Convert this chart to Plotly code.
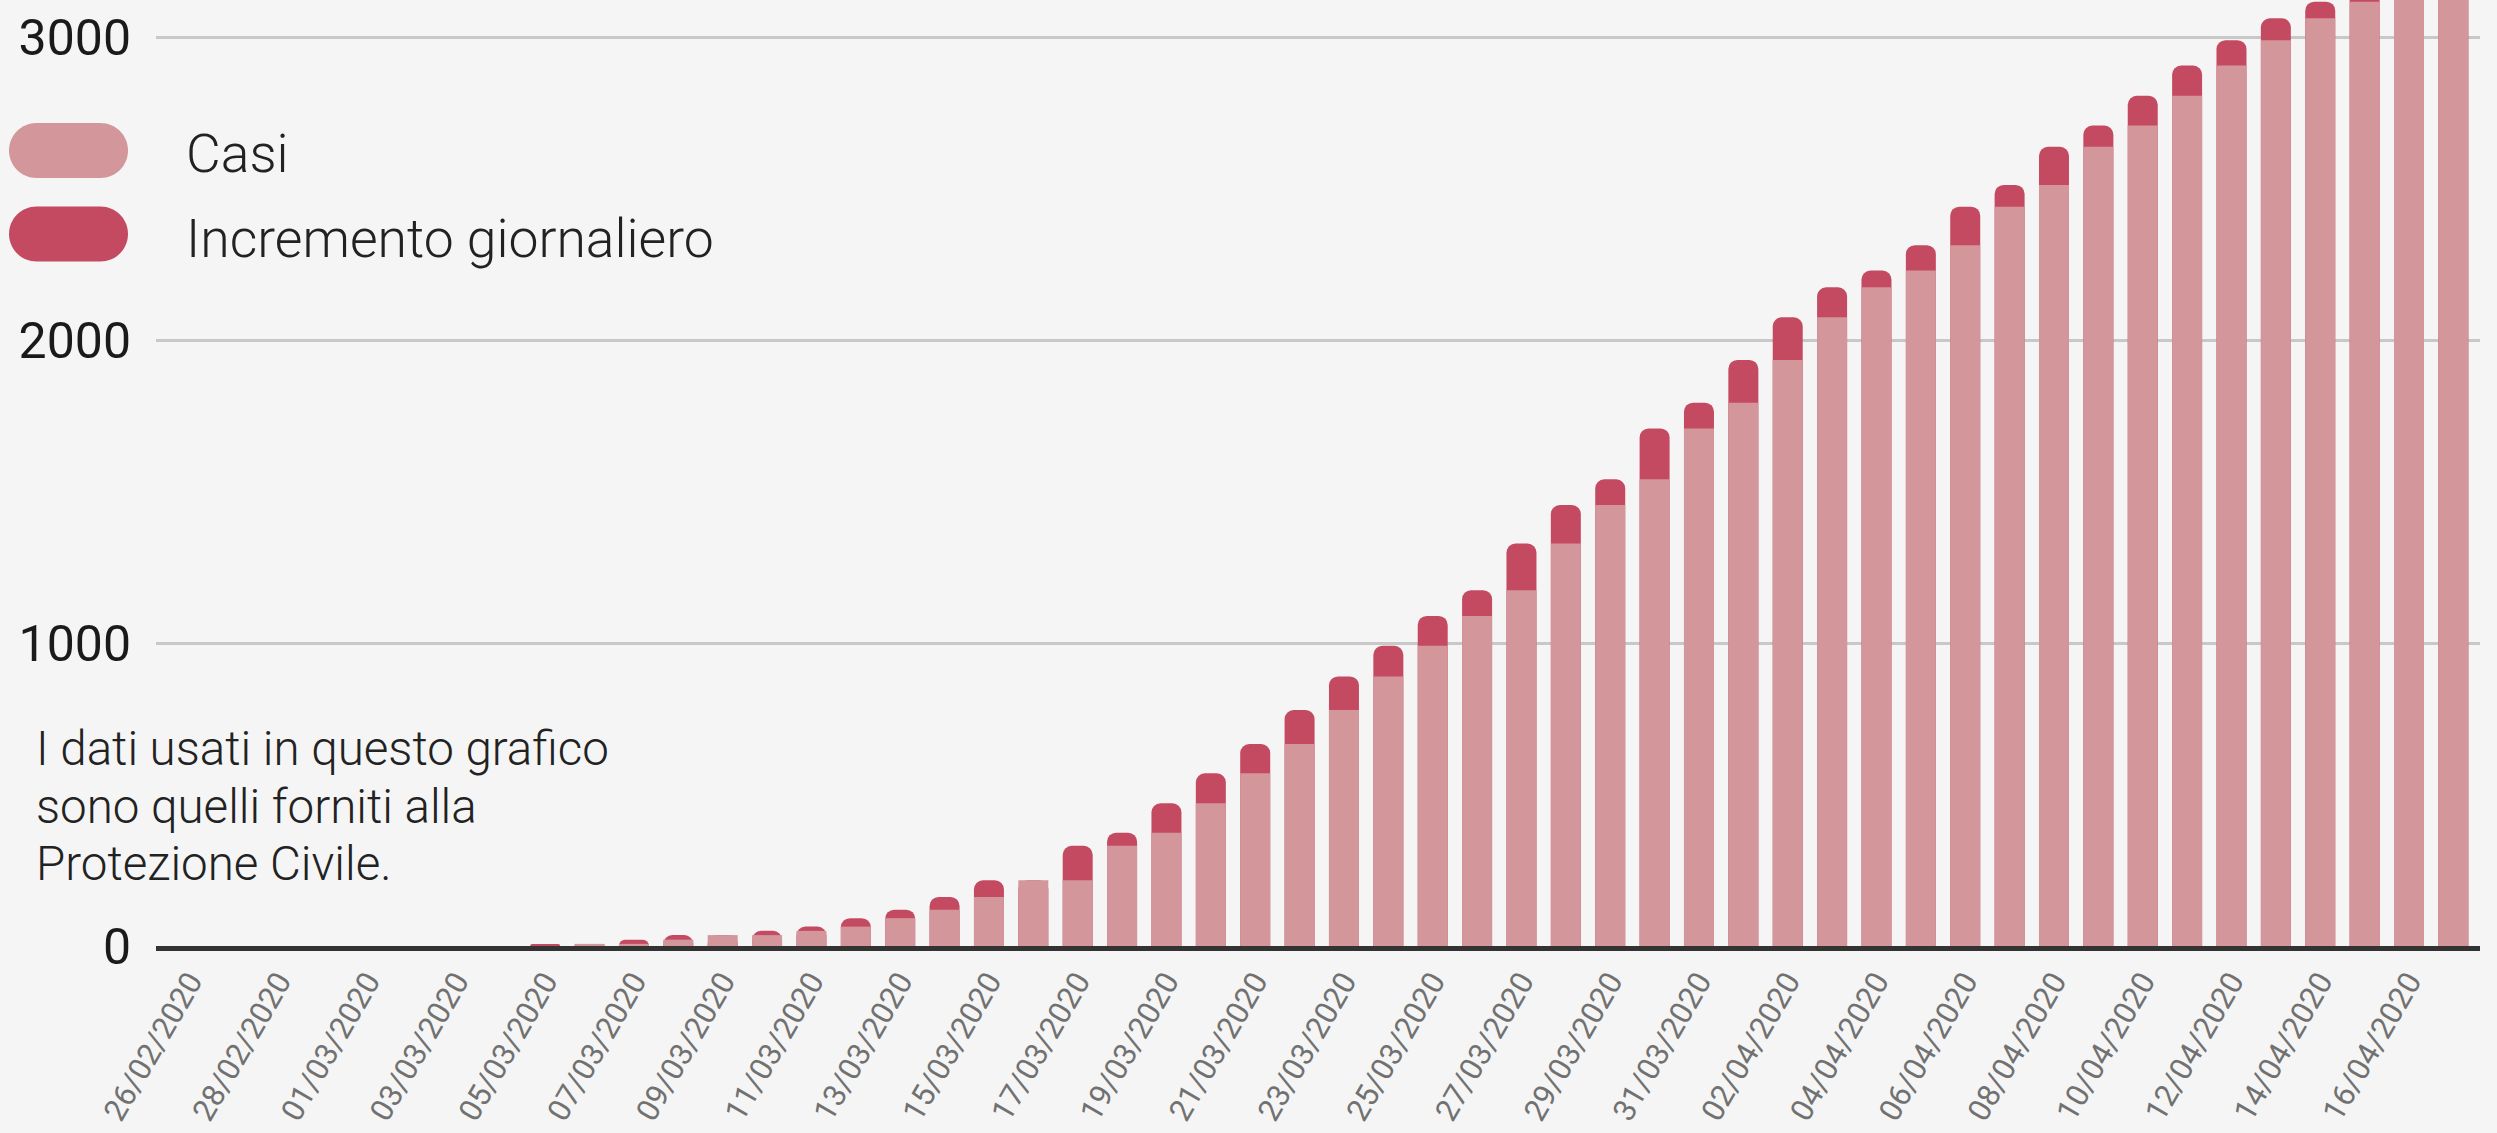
import plotly.graph_objects as go

# ---------------- data ----------------
date_labels = [
    "26/02/2020", "27/02/2020", "28/02/2020", "29/02/2020",
    "01/03/2020", "02/03/2020", "03/03/2020", "04/03/2020", "05/03/2020",
    "06/03/2020", "07/03/2020", "08/03/2020", "09/03/2020", "10/03/2020",
    "11/03/2020", "12/03/2020", "13/03/2020", "14/03/2020", "15/03/2020",
    "16/03/2020", "17/03/2020", "18/03/2020", "19/03/2020", "20/03/2020",
    "21/03/2020", "22/03/2020", "23/03/2020", "24/03/2020", "25/03/2020",
    "26/03/2020", "27/03/2020", "28/03/2020", "29/03/2020", "30/03/2020",
    "31/03/2020", "01/04/2020", "02/04/2020", "03/04/2020", "04/04/2020",
    "05/04/2020", "06/04/2020", "07/04/2020", "08/04/2020", "09/04/2020",
    "10/04/2020", "11/04/2020", "12/04/2020", "13/04/2020", "14/04/2020",
    "15/04/2020", "16/04/2020", "17/04/2020",
]

casi = [
    0, 0, 0, 0, 0, 0, 0, 0, 0,
    7, 7, 21, 36, 36, 50, 64, 92, 120, 162,
    217, 217, 331, 374, 471, 570, 667, 779, 890, 991,
    1090, 1175, 1329, 1456, 1541, 1709, 1794, 1935, 2076, 2175,
    2230, 2314, 2441, 2513, 2639, 2709, 2807, 2907, 2991, 3063,
    3118, 3178, 3248,
]

incremento = [
    0, 0, 0, 0, 0, 0, 0, 0, 7,
    0, 14, 15, 0, 14, 14, 28, 28, 42, 55,
    0, 114, 43, 97, 99, 97, 112, 111, 101, 99,
    85, 154, 127, 85, 168, 85, 141, 141, 99, 55,
    84, 127, 72, 126, 70, 98, 100, 84, 72, 55,
    60, 70, 60,
]

tick_labels = date_labels[::2]
y_ticks = [0, 1000, 2000, 3000]

legend_labels = ["Casi", "Incremento giornaliero"]
note_lines = [
    "I dati usati in questo grafico",
    "sono quelli forniti alla",
    "Protezione Civile.",
]

# ---------------- style ----------------
W, H = 2497, 1133
ML, MR, MT, MB = 156, 17, 0, 187
PW, PH = W - ML - MR, H - MT - MB

LIGHT = "#d3969b"
DARK = "#c44a62"
BG = "#f5f5f5"
FONT = "Roboto"

totale = [c + i for c, i in zip(casi, incremento)]


def px_x(px):
    return (px - ML) / PW


def px_y(py):
    return (H - MB - py) / PH


fig = go.Figure()
fig.add_bar(
    x=date_labels, y=totale, name=legend_labels[1],
    marker=dict(color=DARK, cornerradius=9, line=dict(width=0)),
    width=0.676, showlegend=False, hoverinfo="skip",
)
fig.add_bar(
    x=date_labels, y=casi, name=legend_labels[0],
    marker=dict(color=LIGHT, line=dict(width=0)),
    width=0.676, showlegend=False,
)

shapes = []
annotations = []

# custom pill legend
pill = ("M -32,-27.5 L 32,-27.5 C 47.2,-27.5 59.5,-15.2 59.5,0 "
        "C 59.5,15.2 47.2,27.5 32,27.5 L -32,27.5 "
        "C -47.2,27.5 -59.5,15.2 -59.5,0 C -59.5,-15.2 -47.2,-27.5 -32,-27.5 Z")
legend_rows = [(LIGHT, 150.5, 154.0), (DARK, 234.0, 239.0)]
for (col, sy, ty), lab in zip(legend_rows, legend_labels):
    shapes.append(dict(
        type="path", xref="paper", yref="paper",
        xsizemode="pixel", ysizemode="pixel",
        xanchor=px_x(68.5), yanchor=px_y(sy),
        path=pill, fillcolor=col, line=dict(width=0), layer="above",
    ))
    annotations.append(dict(
        text=lab, xref="paper", yref="paper", x=px_x(184), y=px_y(ty),
        xanchor="left", yanchor="middle", showarrow=False,
        font=dict(family=FONT, size=53.5, color="#222222", weight=300),
    ))

for line, py in zip(note_lines, [749, 807, 864]):
    annotations.append(dict(
        text=line, xref="paper", yref="paper", x=px_x(34), y=px_y(py),
        xanchor="left", yanchor="middle", showarrow=False,
        font=dict(family=FONT, size=47.5, color="#222222", weight=300),
    ))

fig.update_layout(
    width=W, height=H,
    margin=dict(l=ML, r=MR, t=MT, b=MB, pad=0, autoexpand=False),
    paper_bgcolor=BG, plot_bgcolor=BG,
    barmode="overlay",
    showlegend=False,
    shapes=shapes,
    annotations=annotations,
    xaxis=dict(
        type="category",
        range=[-0.77, 51.6],
        tickmode="array",
        tickvals=tick_labels,
        ticktext=tick_labels,
        tickangle=-60,
        tickfont=dict(family=FONT, size=31, color="#717171"),
        showgrid=False,
        showline=True, linecolor="#333333", linewidth=5,
        ticks="",
        zeroline=False,
        automargin=False,
    ),
    yaxis=dict(
        range=[0, 3123.5],
        tickmode="array",
        tickvals=y_ticks,
        ticktext=[str(v) for v in y_ticks],
        tickfont=dict(family=FONT, size=50, color="#1a1a1a"),
        showgrid=True, gridcolor="#c8c8c8", gridwidth=3,
        zeroline=False, showline=False, ticks="",
        ticklabelstandoff=24,
        automargin=False,
    ),
)

fig.write_html(
    "out.html",
    config={"displayModeBar": False},
    post_script="document.body.style.margin='0';document.body.style.overflow='hidden';",
)
